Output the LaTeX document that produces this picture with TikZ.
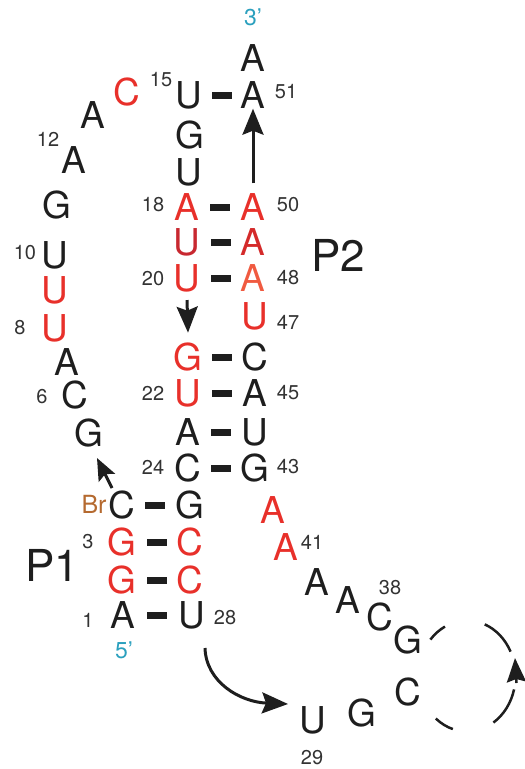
\documentclass[tikz,border=0pt]{standalone}
\usepackage{fontspec}
\setmainfont{TeX Gyre Heros}
\usetikzlibrary{arrows.meta,calc}
\definecolor{ink}{HTML}{1E1E1E}
\definecolor{numc}{HTML}{333333}
\definecolor{rd}{HTML}{E8302A}
\definecolor{drd}{HTML}{C82830}
\definecolor{mrd}{HTML}{D42A2A}
\definecolor{lrd}{HTML}{F05A40}
\definecolor{teal5}{HTML}{2BA0BE}
\definecolor{brn}{HTML}{B56A30}
\begin{document}
\begin{tikzpicture}[x=1pt,y=-1pt,
  nt/.style={inner sep=0pt, font=\fontsize{37}{37}\selectfont, text=ink},
  num/.style={inner sep=0pt, font=\fontsize{20}{20}\selectfont, text=numc},
  endl/.style={inner sep=0pt, font=\fontsize{23}{23}\selectfont, text=teal5},
  plab/.style={inner sep=0pt, font=\fontsize{44}{44}\selectfont, text=ink},
  bar/.style={fill=ink, minimum width=20pt, minimum height=7pt, inner sep=0pt},
  arr/.style={line width=3pt, draw=ink, -{Stealth[length=26pt,width=21pt,inset=4pt]}},
  sarr/.style={line width=3pt, draw=ink, -{Stealth[length=22pt,width=18pt,inset=4pt]}},
  loopl/.style={line width=2.5pt, draw=ink},
  larr/.style={line width=2.5pt, draw=ink, -{Stealth[length=24pt,width=19pt,inset=3pt]}}]
\useasboundingbox (0,0) rectangle (525,769);
% ---- 5' strand / P1 left
\node[nt] (n1) at (123,615) {A};
\node[nt,text=rd] (n2) at (122,580) {G};
\node[nt,text=rd] (n3) at (122,542) {G};
\node[nt] (n4) at (122,505) {C};
\node[inner sep=0pt, font=\fontsize{25}{25}\selectfont, text=brn] (br) at (94,504) {Br};
% ---- J1/2 loop
\node[nt] (n5) at (89,433) {G};
\node[nt] (n6) at (75,395) {C};
\node[nt] (n7) at (67,362) {A};
\node[nt,text=rd] (n8) at (55,328) {U};
\node[nt,text=rd] (n9) at (55,290) {U};
\node[nt] (n10) at (55,255) {U};
\node[nt] (n11) at (57,205) {G};
\node[nt] (n12) at (74,160) {A};
\node[nt] (n13) at (93,115) {A};
\node[nt,text=rd] (n14) at (127,92) {C};
% ---- P2 left
\node[nt] (n15) at (189,95) {U};
\node[nt] (n16) at (190,135) {G};
\node[nt] (n17) at (189,172) {U};
\node[nt,text=rd] (n18) at (187,207) {A};
\node[nt,text=drd] (n19) at (187,242) {U};
\node[nt,text=rd] (n20) at (187,278) {U};
\node[nt,text=rd] (n21) at (188,357) {G};
\node[nt,text=rd] (n22) at (188,393) {U};
\node[nt] (n23) at (188,432) {A};
\node[nt] (n24) at (188,468) {C};
% ---- P1 right
\node[nt] (n25) at (190,505) {G};
\node[nt,text=rd] (n26) at (190,542) {C};
\node[nt,text=rd] (n27) at (190,580) {C};
\node[nt] (n28) at (192,615) {U};
% ---- bottom loop
\node[nt] (n29) at (313,720) {U};
\node[nt] (n30) at (362,713) {G};
\node[nt] (n31) at (408,692) {C};
\node[nt] (n37) at (408,640) {G};
\node[nt] (n38) at (380,617) {C};
\node[nt] (n39) at (348,600) {A};
\node[nt] (n40) at (317,582) {A};
\node[nt,text=rd] (n41) at (286,547) {A};
\node[nt,text=rd] (n42) at (273,510) {A};
% ---- P2 right
\node[nt] (n43) at (255,468) {G};
\node[nt] (n44) at (255,432) {U};
\node[nt] (n45) at (255,393) {A};
\node[nt] (n46) at (255,357) {C};
\node[nt,text=rd] (n47) at (255,316) {U};
\node[nt,text=lrd] (n48) at (253,278) {A};
\node[nt,text=mrd] (n49) at (253,242) {A};
\node[nt,text=rd] (n50) at (253,207) {A};
\node[nt] (n51) at (253,95) {A};
\node[nt] (n52) at (253,58) {A};
% ---- ends
\node[endl] (t3) at (253,17) {3’};
\node[endl] (t5) at (124,650) {5’};
% ---- helix labels
\node[plab] (p1) at (52,565) {P1};
\node[plab] (p2) at (338,255) {P2};
% ---- numbers
\node[num] (l1) at (88,620) {1};
\node[num] (l3) at (88,542) {3};
\node[num] (l6) at (42,397) {6};
\node[num] (l8) at (20,328) {8};
\node[num] (l10) at (25,253) {10};
\node[num] (l12) at (48,139) {12};
\node[num] (l15) at (161,80) {15};
\node[num] (l18) at (153,205) {18};
\node[num] (l20) at (153,279) {20};
\node[num] (l22) at (153,393) {22};
\node[num] (l24) at (153,467) {24};
\node[num] (l28) at (225,618) {28};
\node[num] (l29) at (312,758) {29};
\node[num] (l38) at (390,588) {38};
\node[num] (l41) at (312,542) {41};
\node[num] (l43) at (288,467) {43};
\node[num] (l45) at (288,393) {45};
\node[num] (l47) at (288,322) {47};
\node[num] (l48) at (288,278) {48};
\node[num] (l50) at (288,205) {50};
\node[num] (l51) at (286,92) {51};
% ---- base-pair bars
\path (n15) -- (n51) node[bar,midway] (b15) {};
\path (n18) -- (n50) node[bar,midway] (b18) {};
\path (n19) -- (n49) node[bar,midway] (b19) {};
\path (n20) -- (n48) node[bar,midway] (b20) {};
\path (n21) -- (n46) node[bar,midway] (b21) {};
\path (n22) -- (n45) node[bar,midway] (b22) {};
\path (n23) -- (n44) node[bar,midway] (b23) {};
\path (n24) -- (n43) node[bar,midway] (b24) {};
\path (n4) -- (n25) node[bar,midway] (b4) {};
\path (n3) -- (n26) node[bar,midway] (b3) {};
\path (n2) -- (n27) node[bar,midway] (b2) {};
\path (n1) -- (n28) node[bar,midway] (b1) {};
% ---- arrows
\draw[arr] ([yshift=10pt]n50.north) -- (n51.south);
\draw[arr] ([yshift=-8pt]n20.south) -- ([yshift=10pt]n21.north);
\coordinate (da) at (112,488);
\coordinate (db) at (97,458);
\draw[sarr] (da) -- (db);
\coordinate (ca) at (205,648);
\coordinate (cb) at (288,704);
\draw[arr] (ca) .. controls (206,682) and (240,702) .. (cb);
% ---- dashed loop
\coordinate (lc) at (467,676);
\draw[loopl] (lc) ++(-117:48.5 and 55.5) arc[start angle=-117, end angle=-139, x radius=48.5, y radius=55.5];
\draw[loopl] (lc) ++(-26:48.5 and 55.5) arc[start angle=-26, end angle=-68.5, x radius=48.5, y radius=55.5];
\draw[loopl] (lc) ++(14:48.5 and 55.5) arc[start angle=14, end angle=57, x radius=48.5, y radius=55.5];
\draw[loopl] (lc) ++(107:48.5 and 55.5) arc[start angle=107, end angle=130, x radius=48.5, y radius=55.5];
\coordinate (la) at (516.5,683);
\coordinate (lb) at (515,658);
\draw[larr] (la) -- (lb);
\end{tikzpicture}
\end{document}
